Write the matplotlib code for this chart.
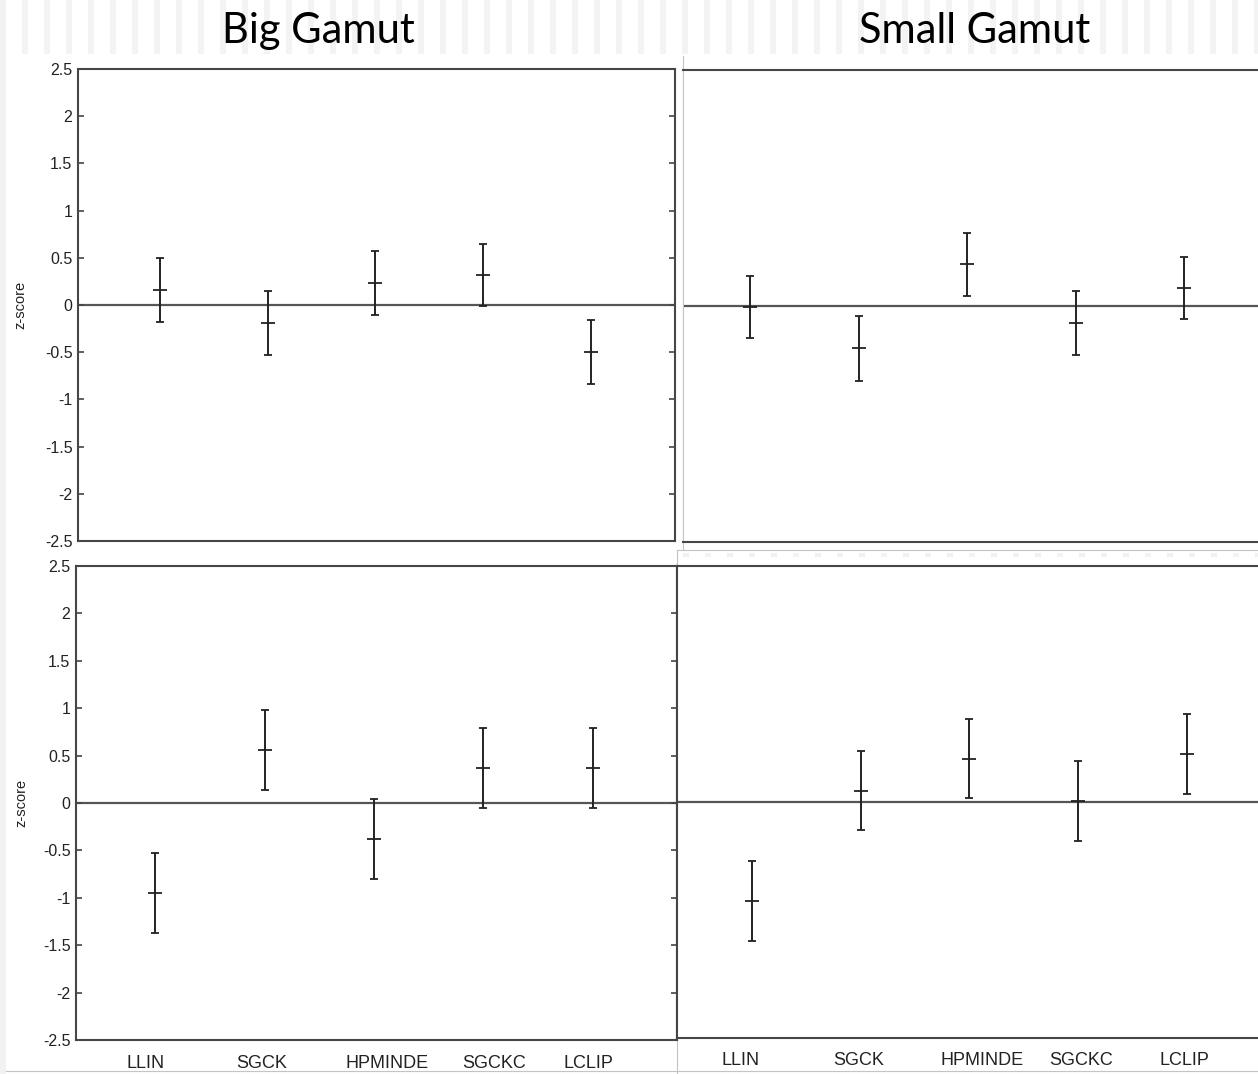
import matplotlib
matplotlib.use("Agg")
import matplotlib.pyplot as plt
from matplotlib.patches import Rectangle

categories = ["LLIN", "SGCK", "HPMINDE", "SGCKC", "LCLIP"]
yticks = [-2.5, -2, -1.5, -1, -0.5, 0, 0.5, 1, 1.5, 2, 2.5]

# z-score means and half-widths of the error bars, per panel
big_top_mean = [0.16, -0.19, 0.23, 0.32, -0.50]
big_top_err = [0.34, 0.34, 0.34, 0.33, 0.34]
small_top_mean = [-0.01, -0.45, 0.44, -0.18, 0.19]
small_top_err = [0.33, 0.34, 0.33, 0.34, 0.33]
big_bot_mean = [-0.95, 0.56, -0.38, 0.37, 0.37]
big_bot_err = [0.42, 0.42, 0.42, 0.42, 0.42]
small_bot_mean = [-1.05, 0.12, 0.46, 0.01, 0.51]
small_bot_err = [0.42, 0.42, 0.42, 0.42, 0.42]

W, H = 1258, 1074
plt.rcParams["axes.unicode_minus"] = False
plt.rcParams["font.family"] = ["Liberation Sans", "DejaVu Sans"]

fig = plt.figure(figsize=(W / 100, H / 100), dpi=100)


def box(l, t, r, b):
    return [l / W, 1 - b / H, (r - l) / W, (b - t) / H]


# screenshot background (stripes, thin frame lines)
bg = fig.add_axes([0, 0, 1, 1], zorder=0)
bg.set_xlim(0, W)
bg.set_ylim(H, 0)
bg.axis("off")
for x in range(22, W, 22):
    bg.add_patch(Rectangle((x, 0), 6, 54, color="#f3f3f3", lw=0))
for x in range(683, W, 22):
    bg.add_patch(Rectangle((x, 553), 6, 4, color="#f2f2f2", lw=0))
bg.add_patch(Rectangle((0, 0), 6, H, color="#f2f2f2", lw=0))
thin = dict(color="#c4c4c4", lw=0.8)
bg.plot([683, 683], [56, 550], **thin)
bg.plot([677, W], [550, 550], **thin)
bg.plot([677, 677], [550, 566], **thin)
bg.plot([677, 677], [1040, H], **thin)
bg.plot([6, W], [1071, 1071], **thin)

dark = "#464646"


def panel(rect, xlim, mean, err, left=True, xticks=None, xpad=10):
    ax = fig.add_axes(rect, zorder=1)
    ax.set_xlim(xlim)
    ax.set_ylim(-2.5, 2.5)
    ax.axhline(0, color="#555555", lw=1.6, zorder=1)
    ax.errorbar(range(1, 6), mean, yerr=err, fmt="_", color="#222222",
                ms=9.5, mew=1.3, elinewidth=1.4, capsize=3.2, capthick=1.3,
                zorder=2)
    for s in ax.spines.values():
        s.set_color(dark)
        s.set_linewidth(1.5)
    if left:
        ax.set_yticks(yticks)
        ax.set_yticklabels([f"{v:g}" for v in yticks])
        ax.tick_params(axis="y", direction="in", length=4, width=1.2,
                       color=dark, left=True, right=True, labelsize=11.5,
                       labelcolor="#222222", pad=4)
        ax.set_ylabel("z-score", fontsize=10.5, color="#222222")
    else:
        ax.set_yticks([])
        ax.spines["left"].set_color("#c4c4c4")
        ax.spines["left"].set_linewidth(0.8)
    if xticks is None:
        ax.set_xticks([])
    else:
        ax.set_xticks(xticks)
        ax.set_xticklabels(categories, fontsize=13, color="#222222",
                           family=["Liberation Sans Narrow", "Liberation Sans"])
        ax.tick_params(axis="x", length=0, pad=xpad)
    return ax


ax1 = panel(box(78, 69, 675, 541), (0.239, 5.78), big_top_mean, big_top_err)
ax1.yaxis.set_label_coords(-0.084, 0.5)
panel(box(683, 70, 1280, 542), (0.382, 5.884), small_top_mean, small_top_err,
      left=False)
ax3 = panel(box(76, 566, 677, 1040), (0.274, 5.773), big_bot_mean, big_bot_err,
            xticks=[0.914, 1.975, 3.119, 4.098, 4.967], xpad=11)
ax3.yaxis.set_label_coords(-0.08, 0.5)
ax4 = panel(box(677, 566, 1278, 1038), (0.310, 5.839), small_bot_mean,
            small_bot_err, left=False,
            xticks=[0.899, 1.98, 3.116, 4.027, 4.974], xpad=10)
ax4.spines["left"].set_color(dark)
ax4.spines["left"].set_linewidth(1.5)

fig.text(318 / W, 1 - 43 / H, "Big Gamut", ha="center", va="baseline",
         fontsize=30, family=["Lato", "DejaVu Sans"])
fig.text(975 / W, 1 - 43 / H, "Small Gamut", ha="center", va="baseline",
         fontsize=30, family=["Lato", "DejaVu Sans"])

fig.savefig("out.png", dpi=100)
